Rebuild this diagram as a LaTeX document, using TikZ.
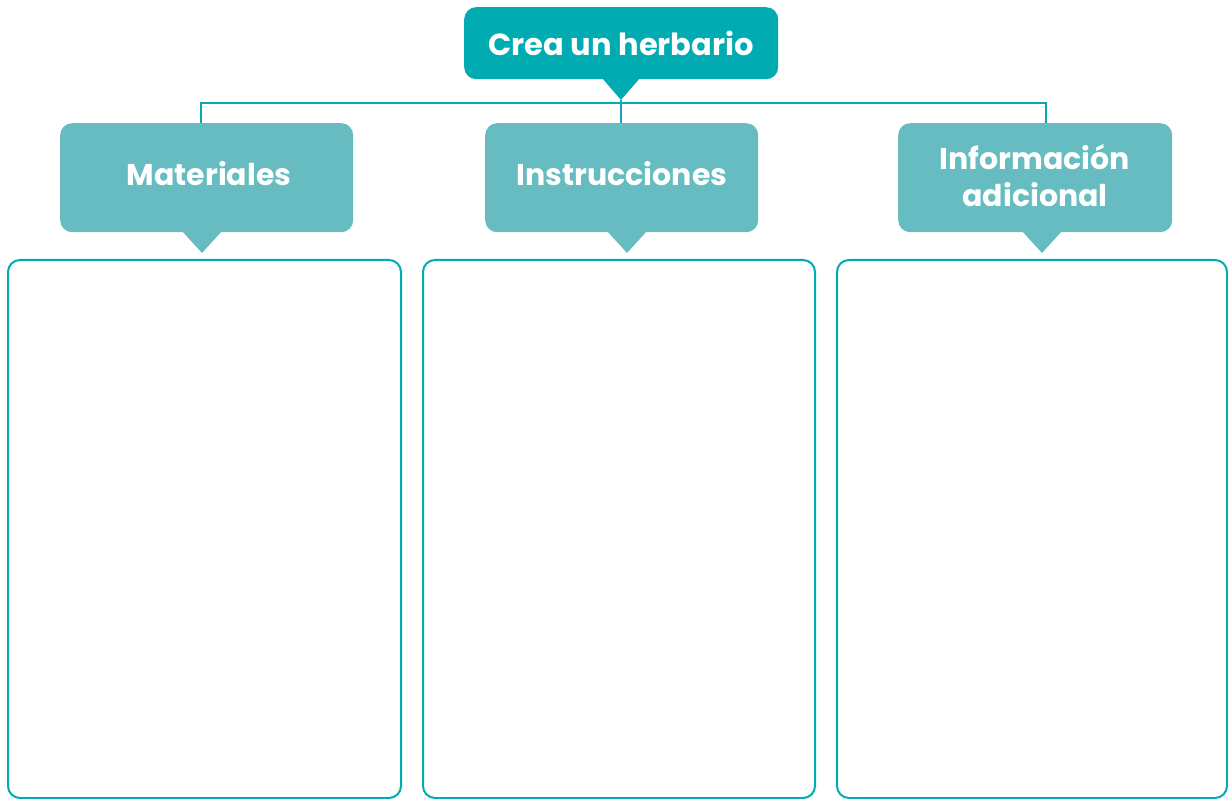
\documentclass[tikz,border=0pt]{standalone}
\usepackage{fontspec}
\setmainfont{Poppins}[UprightFont=* Bold]
\definecolor{tealdark}{HTML}{00ABB2}
\definecolor{teallight}{HTML}{66BCC0}
\definecolor{linkblue}{HTML}{1A9FD0}
\begin{document}
\begin{tikzpicture}[x=1pt,y=-1pt,
  titlebox/.style={fill=tealdark,rounded corners=12pt,text=white,font=\fontsize{30.5}{33}\selectfont,inner sep=0pt,anchor=north west},
  headbox/.style={fill=teallight,rounded corners=12pt,text=white,font=\fontsize{30}{37}\selectfont,inner sep=0pt,anchor=north west,align=center},
  headtext/.style={text=white,font=\fontsize{30}{37}\selectfont,align=center,inner sep=0pt},
  panel/.style={draw=tealdark,line width=2pt,rounded corners=12pt},
  conn/.style={draw=tealdark,line width=2pt},
  ptr/.style={line join=round}]
\useasboundingbox (0,0) rectangle (1228,799);
% title
\node[titlebox,minimum width=314pt,minimum height=72pt] (tb) at (464,7) {Crea un herbario};
\fill[tealdark,ptr] (602,78) -- (621,100) -- (640,78) -- cycle;
\coordinate (ttip) at (621,100);
% headers
\node[headbox,minimum width=293pt,minimum height=109pt] (mat) at (60,123) {};
\node[headbox,minimum width=273pt,minimum height=109pt] (ins) at (485,123) {};
\node[headbox,minimum width=274pt,minimum height=109pt] (inf) at (898,123) {};
\node[headtext] (matt) at (209,174) {Materiales};
\node[headtext] (inst) at (622,174) {Instrucciones};
\node[headtext] (inft) at (1035,176) {Información\\adicional};
\fill[teallight,ptr] (182,231) -- (202,253) -- (222,231) -- cycle;
\fill[teallight,ptr] (607,231) -- (627,253) -- (647,231) -- cycle;
\fill[teallight,ptr] (1022,231) -- (1042,253) -- (1062,231) -- cycle;
% bar
\coordinate (barL) at (201,103);
\coordinate (barR) at (1046,103);
\draw[conn] (barL |- mat.north) -- (barL) -- (barR) -- (barR |- inf.north);
\draw[draw=linkblue,line width=2pt] (ttip) -- (ttip |- ins.north);
% panels
\draw[panel] (8,260) rectangle (401,798);
\draw[panel] (423,260) rectangle (815,798);
\draw[panel] (837,260) rectangle (1227,798);
\end{tikzpicture}
\end{document}
